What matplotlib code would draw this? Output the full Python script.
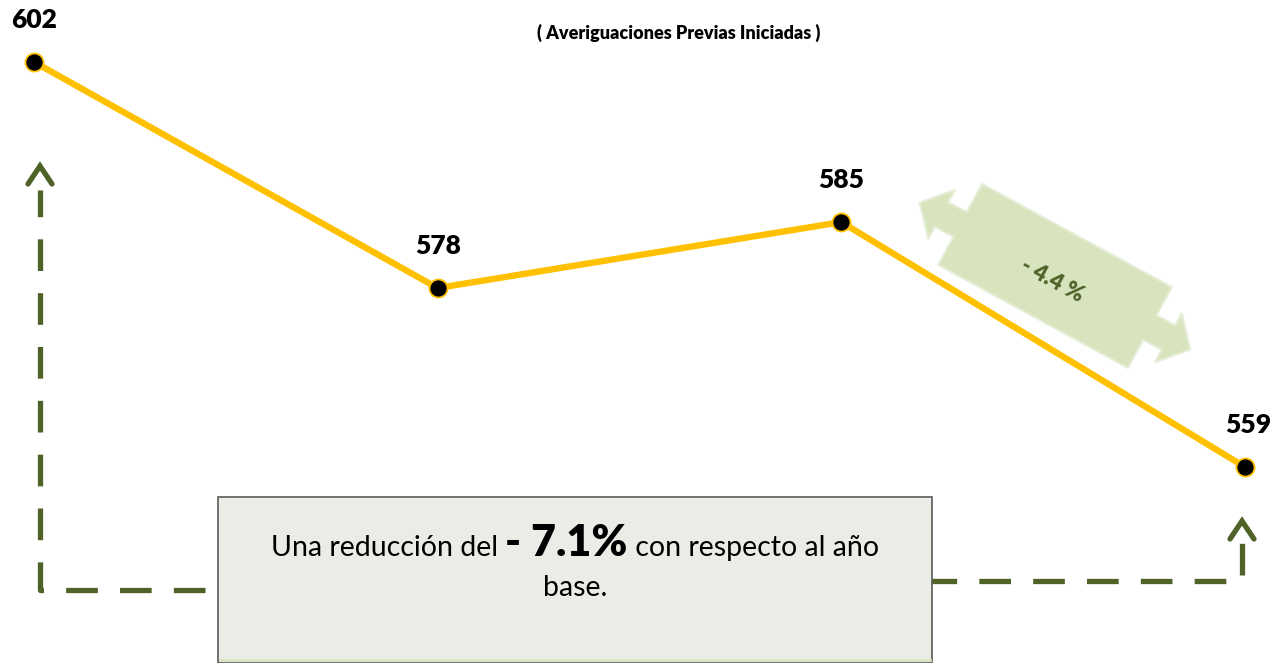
import matplotlib
matplotlib.use("Agg")
import matplotlib.pyplot as plt
from matplotlib.patches import Polygon, Rectangle
import numpy as np

# data
values = [602, 578, 585, 559]
positions = [0, 1, 2, 3]
title = "( Averiguaciones Previas Iniciadas )"

W, H = 1276, 663
OLIVE = "#4F6228"
GOLD = "#FFC000"
FONT = "Lato"

fig = plt.figure(figsize=(W / 100, H / 100), dpi=100)
ax = fig.add_axes([0, 0, 1, 1])
ax.set_xlim(-0.0842, 3.0768)
ax.set_ylim(538.19, 608.58)
ax.axis("off")


def fx(px):
    return px / W


def fy(py):
    return 1 - py / H


#region line + labels
ax.plot(positions, values, color=GOLD, lw=4.6, zorder=3, solid_capstyle="round")
ax.plot(positions, values, ls="none", marker="o", ms=13, mfc="black",
        mec=GOLD, mew=1.3, zorder=4)
for x, v in zip(positions, values):
    ax.annotate(str(v), (x, v), xytext=(2 if x == 3 else 0, 30), textcoords="offset points",
                ha="center", va="center", fontsize=19, fontweight="heavy",
                family=FONT, color="black")

fig.text(fx(679), fy(33), title, ha="center", va="center", fontsize=13,
         fontweight="heavy", family=FONT)
#endregion

#region dashed connectors
fig.add_artist(plt.Line2D([fx(205), fx(40), fx(40)], [fy(590), fy(590), fy(190)],
                          color=OLIVE, lw=3.8, dashes=(6, 4.2)))
fig.add_artist(plt.Line2D([fx(28), fx(40), fx(52)], [fy(184), fy(166), fy(184)],
                          color=OLIVE, lw=3.8, solid_capstyle="round",
                          solid_joinstyle="miter"))
fig.add_artist(plt.Line2D([fx(925), fx(1242), fx(1242)], [fy(581), fy(581), fy(537)],
                          color=OLIVE, lw=3.8, dashes=(6, 4.2)))
fig.add_artist(plt.Line2D([fx(1230), fx(1242), fx(1254)], [fy(539), fy(521), fy(539)],
                          color=OLIVE, lw=3.8, solid_capstyle="round",
                          solid_joinstyle="miter"))
#endregion

#region double arrow with segment change
pct_last = (values[3] - values[2]) / values[2] * 100
theta = np.deg2rad(28.5)
cx, cy = 1055, 276
d = np.array([np.cos(theta), np.sin(theta)])
n = np.array([np.sin(theta), -np.cos(theta)])
local = [(154, 0), (129, 28), (129, 14), (108, 14), (108, 46), (-108, 46),
         (-108, 14), (-129, 14), (-129, 28), (-154, 0), (-129, -28), (-129, -14),
         (-108, -14), (-108, -46), (108, -46), (108, -14), (129, -14), (129, -28)]
pts = [(fx(cx + u * d[0] + v * n[0]), fy(cy + u * d[1] + v * n[1])) for u, v in local]
fig.add_artist(Polygon(pts, closed=True, facecolor="#D7E4BD", edgecolor="#E6EED8",
                       lw=1.5, zorder=2))
fig.text(fx(1052), fy(281), f"- {abs(pct_last):.1f} %",
         ha="center", va="center", rotation=-28.5, fontsize=16, fontweight="heavy",
         family=FONT, color=OLIVE)
#endregion

#region summary box
pct_total = (values[3] - values[0]) / values[0] * 100
fig.add_artist(Rectangle((fx(218), fy(663)), fx(932) - fx(218), fy(497) - fy(663),
                         facecolor="#EAEDE6", edgecolor="#5A5A5A", lw=1.2, zorder=5))
fig.add_artist(plt.Line2D([fx(220), fx(930)], [fy(660), fy(660)], color="#D7E4BD",
                          lw=2, zorder=6))

parts = [("Una reducción del ", 20.5, "normal"),
         (f"- {abs(pct_total):.1f}%", 31, "heavy"),
         (" con respecto al año", 20.5, "normal")]
texts = [fig.text(0, fy(545), s, fontsize=fs, fontweight=fw, family=FONT,
                  va="baseline", ha="left", zorder=7)
         for s, fs, fw in parts]
fig.canvas.draw()
renderer = fig.canvas.get_renderer()
widths = [t.get_window_extent(renderer).width for t in texts]
start = 575 - sum(widths) / 2
for t, w in zip(texts, widths):
    t.set_x(fx(start))
    start += w
for t in texts:
    t.set_y(fy(556))
fig.text(fx(575), fy(596), "base.", fontsize=20.5, family=FONT, ha="center",
         va="baseline", zorder=7)
#endregion

fig.savefig("out.png", dpi=100)
